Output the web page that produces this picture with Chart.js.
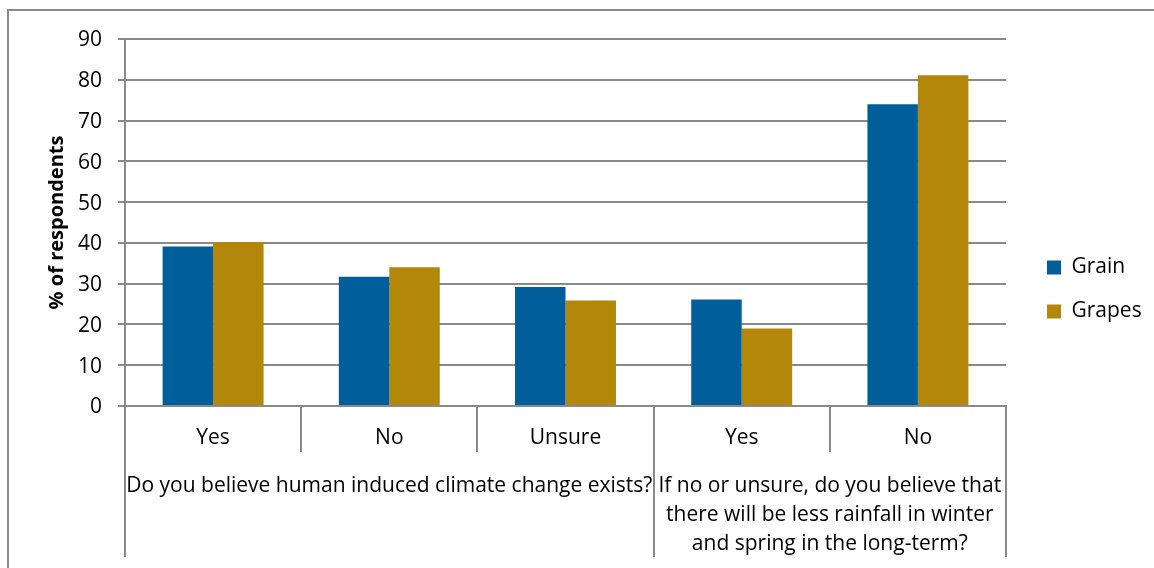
<!DOCTYPE html>
<html>
<head>
<meta charset="utf-8">
<script src="https://cdn.jsdelivr.net/npm/chart.js@4/dist/chart.umd.min.js"></script>
<style>
  html, body { margin: 0; padding: 0; background: #ffffff; }
  #wrap { position: relative; width: 1154px; height: 568px; }
</style>
</head>
<body>
<div id="wrap"><canvas id="c" width="1154" height="568"></canvas></div>
<script>
// Answers, grouped under the survey question they belong to
const categories = ['Yes', 'No', 'Unsure', 'Yes', 'No'];
const questionLines = [
  ['Do you believe human induced climate change exists?'],
  ['If no or unsure, do you believe that', 'there will be less rainfall in winter', 'and spring in the long-term?']
];
const questionSpans = [3, 2];

// Share of respondents (%) by industry
const seriesNames = ['Grain', 'Grapes'];
const grainValues = [39.1, 31.7, 29.2, 26.1, 74.0];
const grapesValues = [40.2, 34.0, 25.9, 19.0, 81.1];

const yTicks = [0, 10, 20, 30, 40, 50, 60, 70, 80, 90];

const FONT = '"Open Sans"';
const FONT_SIZE = 21;
const GRID = '#8a8a8a';
const TEXT = '#000000';

// Width of the longest legend entry, used to keep the plot's right edge fixed
const mctx = document.createElement('canvas').getContext('2d');
mctx.font = FONT_SIZE + 'px ' + FONT;
const legendTextW = Math.max(...seriesNames.map(s => mctx.measureText(s).width));
const LEGEND_PAD = 23, LEGEND_BOX = 14, LEGEND_LEFT = 1024, PLOT_RIGHT_GAP = 18;
// vertical legends in Chart.js reserve 10px extra width
const legendW = LEGEND_PAD + LEGEND_BOX + FONT_SIZE / 2 + legendTextW + 10;
const rightPad = Math.max(0, 1154 - LEGEND_LEFT - legendW);

// Outer frame
const framePlugin = {
  id: 'frame',
  beforeDraw(chart) {
    const ctx = chart.ctx;
    ctx.save();
    ctx.strokeStyle = GRID;
    ctx.lineWidth = 2;
    ctx.beginPath();
    ctx.moveTo(8, 568);
    ctx.lineTo(8, 10);
    ctx.lineTo(1154, 10);
    ctx.stroke();
    ctx.restore();
  }
};

// Second tier of category labels: the question each group of answers belongs to
const questionAxisPlugin = {
  id: 'questionAxis',
  afterDraw(chart) {
    const x = chart.scales.x;
    const ctx = chart.ctx;
    ctx.save();
    ctx.strokeStyle = GRID;
    ctx.lineWidth = 2;
    ctx.fillStyle = TEXT;
    ctx.font = FONT_SIZE + 'px ' + FONT;
    ctx.textAlign = 'center';
    ctx.textBaseline = 'middle';
    let start = 0;
    const edges = [x.getPixelForValue(-0.5)];
    questionSpans.forEach((span, gi) => {
      const left = x.getPixelForValue(start - 0.5);
      const right = x.getPixelForValue(start + span - 0.5);
      edges.push(right);
      const cx = (left + right) / 2;
      questionLines[gi].forEach((line, li) => {
        ctx.fillText(line, cx, x.top + 80 + li * 29);
      });
      start += span;
    });
    edges.forEach(px => {
      const p = Math.round(px);
      ctx.beginPath();
      ctx.moveTo(p, x.top);
      ctx.lineTo(p, x.top + 151);
      ctx.stroke();
    });
    ctx.restore();
  }
};

new Chart(document.getElementById('c'), {
  type: 'bar',
  data: {
    labels: categories,
    datasets: [
      { label: seriesNames[0], data: grainValues, backgroundColor: '#005F9B', borderWidth: 0 },
      { label: seriesNames[1], data: grapesValues, backgroundColor: '#B3870A', borderWidth: 0 }
    ]
  },
  options: {
    responsive: false,
    animation: false,
    devicePixelRatio: 1,
    datasets: { bar: { categoryPercentage: 0.573, barPercentage: 1.0 } },
    layout: { padding: { left: 0, top: 39, right: rightPad, bottom: 28 } },
    plugins: {
      legend: {
        position: 'right',
        align: 'center',
        labels: {
          boxWidth: LEGEND_BOX,
          boxHeight: LEGEND_BOX,
          padding: LEGEND_PAD,
          color: TEXT,
          font: { family: FONT, size: FONT_SIZE }
        }
      },
      tooltip: { enabled: false }
    },
    scales: {
      x: {
        offset: true,
        grid: { display: true, drawOnChartArea: false, drawTicks: true, tickLength: 46, color: GRID, lineWidth: 2, offset: true },
        border: { display: true, color: GRID, width: 2 },
        ticks: { color: TEXT, font: { family: FONT, size: FONT_SIZE }, padding: -27, maxRotation: 0, autoSkip: false },
        afterFit(s) { s.height = 134; }
      },
      y: {
        min: 0,
        max: 90,
        afterBuildTicks(s) { s.ticks = yTicks.map(v => ({ value: v })); },
        grid: { color: GRID, lineWidth: 2, tickLength: 7 },
        border: { display: true, color: GRID, width: 2 },
        ticks: { color: TEXT, font: { family: FONT, size: FONT_SIZE }, padding: 16, labelOffset: 1.5 },
        title: {
          display: true,
          text: '% of respondents',
          color: TEXT,
          font: { family: FONT, size: 20, weight: 'bold' },
          padding: { top: 45.5, bottom: 0 }
        },
        afterFit(s) { s.width = 125; }
      },
      gap: {
        type: 'linear',
        position: 'right',
        display: true,
        grid: { display: false },
        border: { display: false },
        ticks: { display: false },
        afterFit(s) { s.width = PLOT_RIGHT_GAP; }
      }
    }
  },
  plugins: [framePlugin, questionAxisPlugin]
});
</script>
</body>
</html>
